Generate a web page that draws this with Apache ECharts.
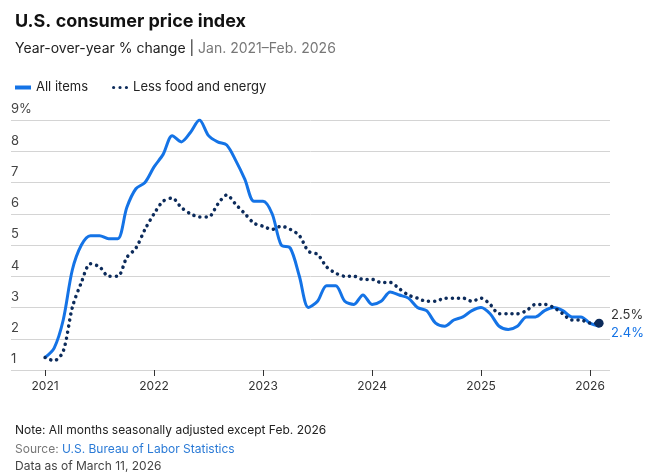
<!DOCTYPE html>
<html><head><meta charset="utf-8">
<script src="https://cdn.jsdelivr.net/npm/echarts@6/dist/echarts.min.js"></script>
<style>html,body{margin:0;padding:0;background:#fff}#c{width:653px;height:473px}</style>
</head><body><div id="c"></div>
<script>
// Monthly values, Jan 2021 .. Feb 2026
const allItems = [1.4,1.7,2.6,4.2,5.0,5.3,5.3,5.2,5.2,6.2,6.8,7.0,
  7.5,7.9,8.5,8.3,8.6,9.0,8.5,8.3,8.2,7.7,7.1,6.4,
  6.4,6.0,5.0,4.9,4.0,3.0,3.2,3.7,3.7,3.2,3.1,3.4,
  3.1,3.2,3.5,3.4,3.3,3.0,2.9,2.5,2.4,2.6,2.7,2.9,
  3.0,2.8,2.4,2.3,2.4,2.7,2.7,2.9,3.0,2.9,2.7,2.7,
  2.5,2.4];
const core = [1.4,1.3,1.6,3.0,3.8,4.4,4.3,4.0,4.0,4.6,4.9,5.5,
  6.0,6.4,6.5,6.2,6.0,5.9,5.9,6.3,6.6,6.3,6.0,5.7,
  5.6,5.5,5.6,5.5,5.3,4.8,4.7,4.3,4.1,4.0,4.0,3.9,
  3.9,3.8,3.8,3.6,3.4,3.3,3.2,3.2,3.3,3.3,3.3,3.2,
  3.3,3.1,2.8,2.8,2.8,2.9,3.1,3.1,3.0,2.8,2.6,2.6,
  2.5,2.5];
const yearLabels = ['2021','2022','2023','2024','2025','2026'];
const yearTicks = [0,12,24,36,48,60];
const BLUE = '#1473e6', NAVY = '#0c2b5b';
const toPts = a => a.map((v,i)=>[i,v]);
const chart = echarts.init(document.getElementById('c'));
const F = 'Inter, "Noto Sans", sans-serif';
const dotIcon = 'path://M0,0a1.5,1.5 0 1,0 3,0a1.5,1.5 0 1,0 -3,0M6,0a1.5,1.5 0 1,0 3,0a1.5,1.5 0 1,0 -3,0M12,0a1.5,1.5 0 1,0 3,0a1.5,1.5 0 1,0 -3,0';
chart.setOption({
  animation:false,
  textStyle:{fontFamily:F},
  title:[
    {text:'U.S. consumer price index',left:10,top:8,textStyle:{fontSize:18,fontWeight:'bold',color:'#111',fontFamily:F}},
    {text:'{a|Year-over-year % change | }{b|Jan. 2021–Feb. 2026}',left:10,top:37,textStyle:{rich:{a:{fontSize:14,fontWeight:'normal',color:'#222',fontFamily:F},b:{fontSize:14,fontWeight:'normal',color:'#777',fontFamily:F}}}},
    {text:'Note: All months seasonally adjusted except Feb. 2026',left:10,top:419,textStyle:{fontSize:12,fontWeight:'normal',color:'#222',fontFamily:F}},
    {text:'{g|Source: }{l|U.S. Bureau of Labor Statistics}',left:10,top:438,textStyle:{rich:{g:{fontSize:12,fontWeight:'normal',color:'#777',fontFamily:F},l:{fontSize:12,fontWeight:'normal',color:'#2a7ad6',fontFamily:F}}}},
    {text:'Data as of March 11, 2026',left:10,top:455,textStyle:{fontSize:12,fontWeight:'normal',color:'#444',fontFamily:F}}
  ],
  legend:{left:10,top:76,itemWidth:16,itemHeight:4,itemGap:24,textStyle:{fontSize:13,color:'#222'},
    data:[{name:'All items',icon:'rect',itemStyle:{color:BLUE}},{name:'Less food and energy',icon:dotIcon,itemStyle:{color:NAVY}}]},
  grid:{left:11,right:43,top:120,bottom:103},
  xAxis:{type:'value',min:-3.75,max:62.2,
    splitLine:{show:false},axisLine:{show:false},
    axisTick:{show:true,customValues:yearTicks,length:6,lineStyle:{color:'#333'}},
    axisLabel:{customValues:yearTicks,color:'#333',fontSize:12,margin:10,
      formatter:v=>yearLabels[yearTicks.indexOf(Math.round(v))]||''}},
  yAxis:{type:'value',min:1,max:9,interval:1,
    axisLine:{show:false},axisTick:{show:false},
    splitLine:{lineStyle:{color:'#d4d4d4',width:1}},
    axisLabel:{inside:true,verticalAlign:'bottom',margin:0,color:'#444',fontSize:13,padding:[0,0,4,0],
      formatter:v=>v===9?'9%':String(v)}},
  series:[
    {name:'All items',type:'line',data:toPts(allItems),smooth:0.3,showSymbol:false,
      lineStyle:{color:BLUE,width:3},itemStyle:{color:BLUE},z:3,
      endLabel:{show:true,formatter:'2.4%',color:BLUE,fontSize:13,offset:[4,7]}},
    {name:'Less food and energy',type:'line',smooth:0.3,
      data:core.map((v,i)=>i===core.length-1?{value:[i,v],symbol:'circle',symbolSize:9}:{value:[i,v],symbol:'none'}),
      showSymbol:true,
      lineStyle:{color:NAVY,width:3.5,type:[0.1,6],cap:'round'},itemStyle:{color:NAVY},z:4,
      endLabel:{show:true,formatter:'2.5%',color:'#333',fontSize:13,offset:[4,-8]}}
  ]
});
</script></body></html>
